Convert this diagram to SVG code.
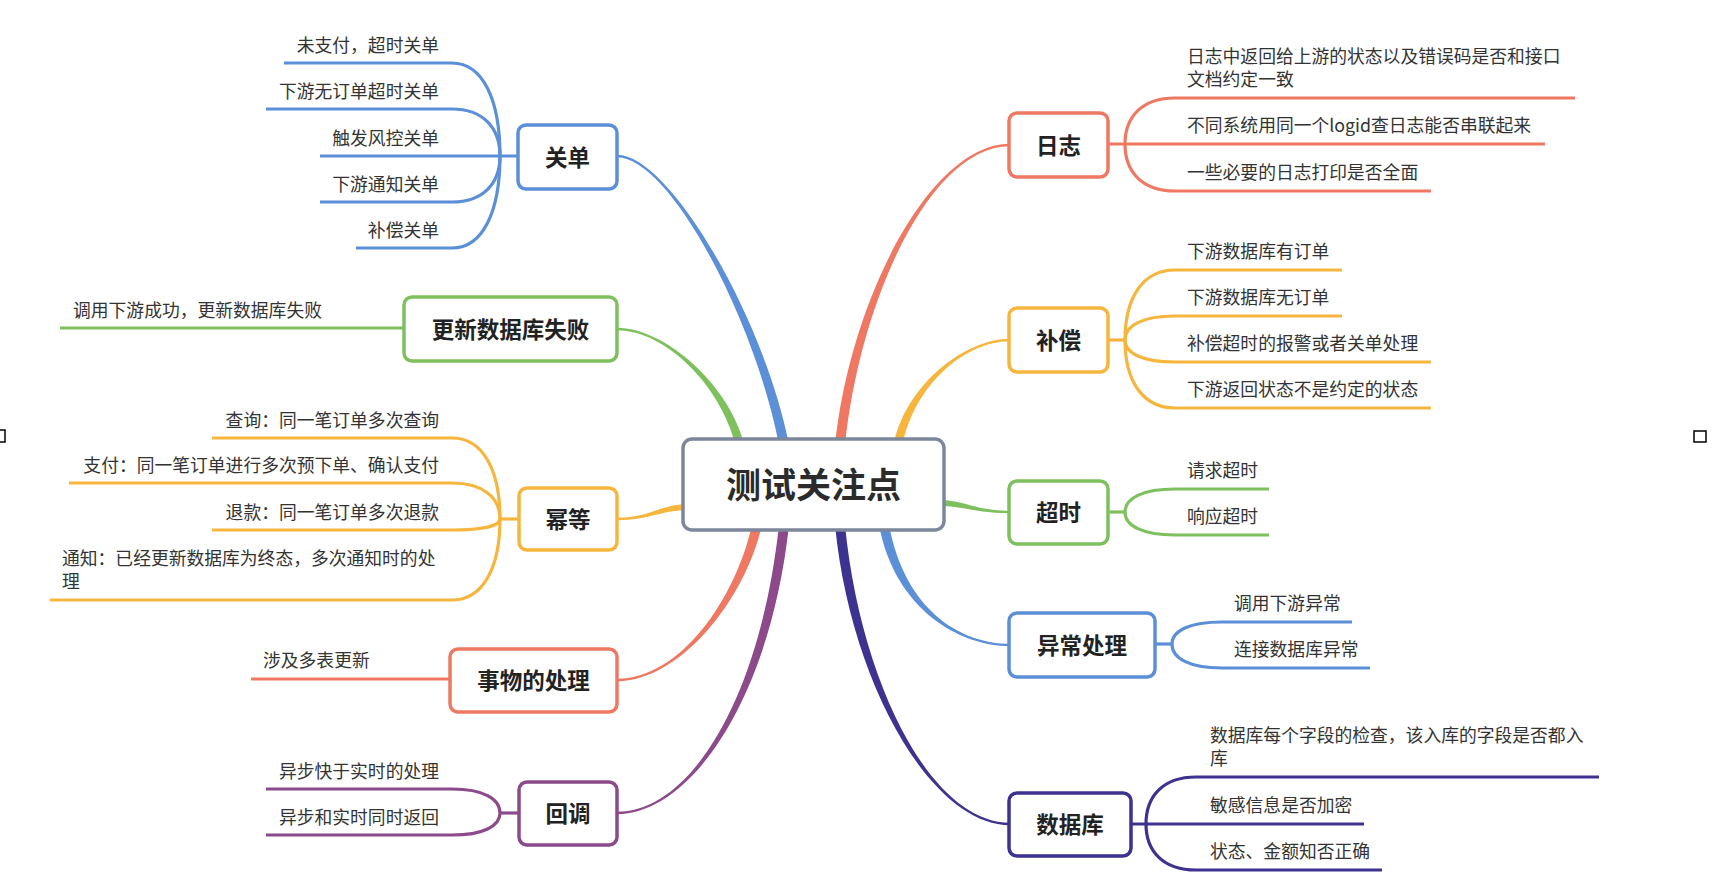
<svg xmlns="http://www.w3.org/2000/svg" width="1724" height="880" viewBox="0 0 1724 880">
<style>
.t{font-family:"Noto Sans CJK SC","Noto Sans",sans-serif;font-size:17.8px;fill:#333}
.e{text-anchor:end}
.n{font-family:"Noto Sans CJK SC","Noto Sans",sans-serif;font-size:22.5px;font-weight:bold;fill:#222;text-anchor:middle}
.c{font-family:"Noto Sans CJK SC","Noto Sans",sans-serif;font-size:35px;font-weight:bold;fill:#2b2b2b;text-anchor:middle}
.box{fill:#fff;stroke-width:3.5}
.sl{fill:none;stroke-width:3.2;stroke-linecap:butt}
.blue{stroke:#5b8fd7}.green{stroke:#7ec05d}.orange{stroke:#f6b63e}.salmon{stroke:#ef7862}.purple{stroke:#8c4a8a}.indigo{stroke:#3b338f}
.fblue{fill:#5b8fd7}.fgreen{fill:#7ec05d}.forange{fill:#f6b63e}.fsalmon{fill:#ef7862}.fpurple{fill:#8c4a8a}.findigo{fill:#3b338f}
</style>
<rect x="-7" y="430" width="12" height="12" fill="none" stroke="#000" stroke-width="1.5"/>
<rect x="1694" y="431" width="12" height="11" fill="none" stroke="#000" stroke-width="1.5"/>
<g id="connectors">
<path class="fblue" d="M617,154.8 C670,154.8 765,320 789,445 L779,445 C755,320 670,157.2 617,157.2 Z"/>
<path class="fgreen" d="M617,327.8 C665,327.8 729.5,385 744.5,445 L735.5,445 C720.5,385 665,330.2 617,330.2 Z"/>
<path class="forange" d="M617,517.8 C650,517.8 660,504 690,504 L690,510 C660,510 650,520.2 617,520.2 Z"/>
<path class="fsalmon" d="M617,678.8 C680,678.8 735,600 752,525 L762,525 C745,600 680,681.2 617,681.2 Z"/>
<path class="fpurple" d="M617,811.8 C690,811.8 760,700 779,525 L789,525 C770,700 690,814.2 617,814.2 Z"/>
<path class="fsalmon" d="M1010,146.2 C930,146.2 860,300 845,445 L835,445 C850,300 930,143.8 1010,143.8 Z"/>
<path class="forange" d="M1010,341.2 C965,341.2 914.5,385 902.5,445 L893.5,445 C905.5,385 965,338.8 1010,338.8 Z"/>
<path class="fgreen" d="M1010,513.2 C975,513.2 965,506 938,506 L938,500 C965,500 975,510.8 1010,510.8 Z"/>
<path class="fblue" d="M1010,646.2 C960,646.2 895,610 879,525 L889,525 C905,610 960,643.8 1010,643.8 Z"/>
<path class="findigo" d="M1010,825.2 C930,825.2 850,680 835,525 L845,525 C860,680 930,822.8 1010,822.8 Z"/>
<g class="sl blue">
<path d="M284,63 H452 C483,63 500,100.2 500,156"/>
<path d="M266,109 H452 C483,109 500,127.8 500,156"/>
<path d="M320,156 H518"/>
<path d="M320,202 H452 C483,202 500,183.6 500,156"/>
<path d="M356,248 H452 C483,248 500,211.2 500,156"/>
<path d="M1155,644 H1172"/>
<path d="M1172,644 C1172,630.8 1189.5,622 1222,622 H1352"/>
<path d="M1172,644 C1172,658.4 1189.5,668 1222,668 H1370"/>
</g>
<g class="sl green">
<path d="M60,328 H404"/>
<path d="M1108,512 H1125"/>
<path d="M1125,512 C1125,498.2 1142.5,489 1175,489 H1269"/>
<path d="M1125,512 C1125,525.8 1142.5,535 1175,535 H1269"/>
</g>
<g class="sl orange">
<path d="M212,438 H452 C483,438 500,470.4 500,519"/>
<path d="M69,483 H452 C483,483 500,497.4 500,519"/>
<path d="M212,530 H452 C483,530 500,525.6 500,519"/>
<path d="M50,600 H452 C483,600 500,567.6 500,519"/>
<path d="M500,519 H519"/>
<path d="M1108,340 H1125"/>
<path d="M1125,340 C1125,298 1142.5,270 1175,270 H1342"/>
<path d="M1125,340 C1125,325.6 1142.5,316 1175,316 H1342"/>
<path d="M1125,340 C1125,353.2 1142.5,362 1175,362 H1431"/>
<path d="M1125,340 C1125,380.8 1142.5,408 1175,408 H1431"/>
</g>
<g class="sl salmon">
<path d="M251,679 H450"/>
<path d="M1125,144 C1125,116.4 1142.5,98 1175,98 H1575"/>
<path d="M1108,144 H1545"/>
<path d="M1125,144 C1125,172.2 1142.5,191 1175,191 H1431"/>
</g>
<g class="sl purple">
<path d="M266,789 H452 C483,789 500,798.6 500,813"/>
<path d="M266,835 H452 C483,835 500,826.2 500,813"/>
<path d="M500,813 H519"/>
</g>
<g class="sl indigo">
<path d="M1131,824 H1364"/>
<path d="M1146,824 C1146,795.8 1163.5,777 1196,777 H1599"/>
<path d="M1146,824 C1146,851.6 1163.5,870 1196,870 H1382"/>
</g>
</g>
<g id="center">
<rect x="683" y="439" width="261" height="91" rx="9" fill="#fff" stroke="#7c879b" stroke-width="3.5"/>
<text class="c" x="813.5" y="498">测试关注点</text>
</g>
<g id="node-guandan">
<rect class="box blue" x="518" y="125" width="99" height="64" rx="8"/>
<text class="n" x="567.5" y="165.5">关单</text>
<text class="t e" x="439" y="51.5">未支付，超时关单</text>
<text class="t e" x="439" y="97.5">下游无订单超时关单</text>
<text class="t e" x="439" y="144.5">触发风控关单</text>
<text class="t e" x="439" y="190.5">下游通知关单</text>
<text class="t e" x="439" y="236.5">补偿关单</text>
</g>
<g id="node-gengxin">
<rect class="box green" x="404" y="297" width="213" height="64" rx="8"/>
<text class="n" x="510.5" y="337.5">更新数据库失败</text>
<text class="t" x="73" y="316.5">调用下游成功，更新数据库失败</text>
</g>
<g id="node-mideng">
<rect class="box orange" x="519" y="488" width="98" height="62" rx="8"/>
<text class="n" x="568" y="527.5">幂等</text>
<text class="t e" x="439" y="426.5">查询：同一笔订单多次查询</text>
<text class="t e" x="439" y="471.5">支付：同一笔订单进行多次预下单、确认支付</text>
<text class="t e" x="439" y="518.5">退款：同一笔订单多次退款</text>
<text class="t" x="62" y="565">通知：已经更新数据库为终态，多次通知时的处</text>
<text class="t" x="62" y="588">理</text>
</g>
<g id="node-shiwu">
<rect class="box salmon" x="450" y="649" width="167" height="63" rx="8"/>
<text class="n" x="533.5" y="688.5">事物的处理</text>
<text class="t" x="263" y="667">涉及多表更新</text>
</g>
<g id="node-huidiao">
<rect class="box purple" x="519" y="782" width="98" height="63" rx="8"/>
<text class="n" x="568" y="821.5">回调</text>
<text class="t e" x="439" y="777.5">异步快于实时的处理</text>
<text class="t e" x="439" y="823.5">异步和实时同时返回</text>
</g>
<g id="node-rizhi">
<rect class="box salmon" x="1009" y="113" width="99" height="64" rx="8"/>
<text class="n" x="1058.5" y="153.5">日志</text>
<text class="t" x="1187" y="63">日志中返回给上游的状态以及错误码是否和接口</text>
<text class="t" x="1187" y="86">文档约定一致</text>
<text class="t" x="1187" y="132">不同系统用同一个logid查日志能否串联起来</text>
<text class="t" x="1187" y="179">一些必要的日志打印是否全面</text>
</g>
<g id="node-buchang">
<rect class="box orange" x="1009" y="308" width="99" height="64" rx="8"/>
<text class="n" x="1058.5" y="348.5">补偿</text>
<text class="t" x="1187" y="258">下游数据库有订单</text>
<text class="t" x="1187" y="304">下游数据库无订单</text>
<text class="t" x="1187" y="350">补偿超时的报警或者关单处理</text>
<text class="t" x="1187" y="396">下游返回状态不是约定的状态</text>
</g>
<g id="node-chaoshi">
<rect class="box green" x="1009" y="481" width="99" height="63" rx="8"/>
<text class="n" x="1058.5" y="520.5">超时</text>
<text class="t" x="1187" y="477">请求超时</text>
<text class="t" x="1187" y="523">响应超时</text>
</g>
<g id="node-yichang">
<rect class="box blue" x="1009" y="613" width="146" height="64" rx="8"/>
<text class="n" x="1082" y="653.5">异常处理</text>
<text class="t" x="1234" y="610">调用下游异常</text>
<text class="t" x="1234" y="656">连接数据库异常</text>
</g>
<g id="node-shujuku">
<rect class="box indigo" x="1009" y="793" width="122" height="63" rx="8"/>
<text class="n" x="1070" y="832.5">数据库</text>
<text class="t" x="1210" y="742">数据库每个字段的检查，该入库的字段是否都入</text>
<text class="t" x="1210" y="765">库</text>
<text class="t" x="1210" y="812">敏感信息是否加密</text>
<text class="t" x="1210" y="858">状态、金额知否正确</text>
</g>
</svg>
